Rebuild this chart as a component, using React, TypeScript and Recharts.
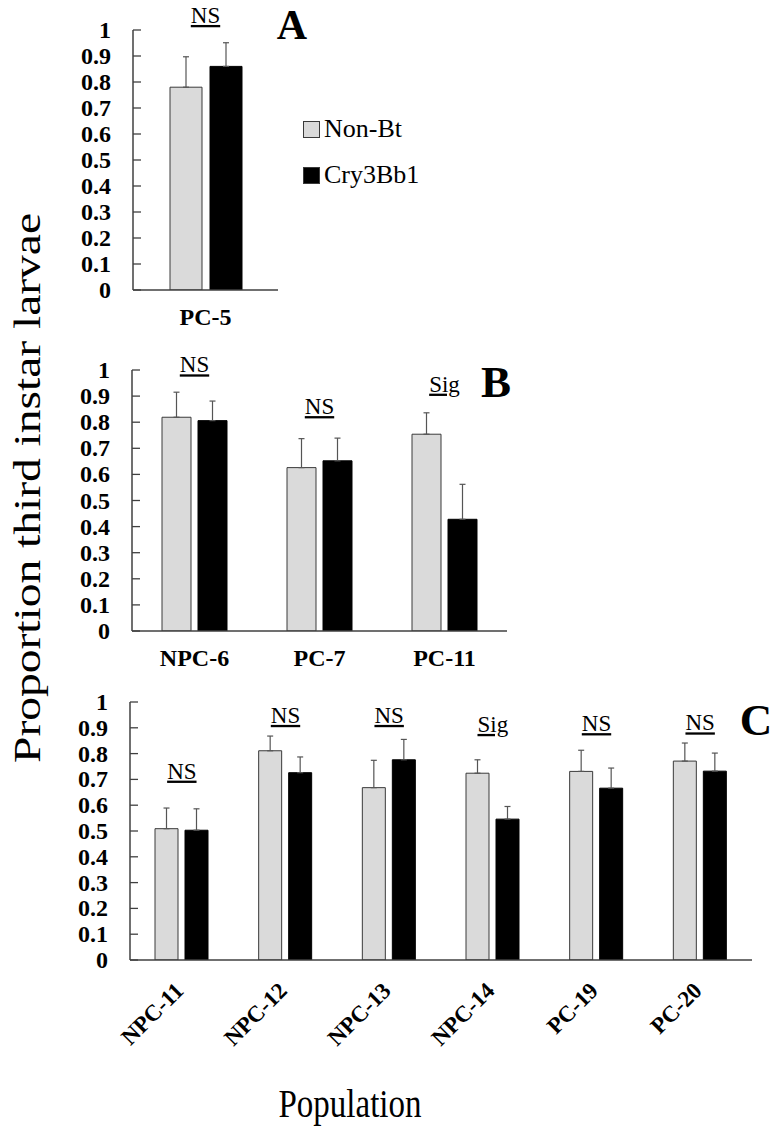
import React from 'react';
import { BarChart, Bar, XAxis, YAxis, ErrorBar, ReferenceDot, Legend } from 'recharts';

const yTicks = [0, 0.1, 0.2, 0.3, 0.4, 0.5, 0.6, 0.7, 0.8, 0.9, 1];

const seriesNames = ['Non-Bt', 'Cry3Bb1'];

// Panel A
const catsA = ['PC-5'];
const nonBtA = [0.78];
const nonBtErrA = [0.117];
const cryA = [0.86];
const cryErrA = [0.091];
const sigA = ['NS'];
const sigPosA = [1.027];

// Panel B
const catsB = ['NPC-6', 'PC-7', 'PC-11'];
const nonBtB = [0.819, 0.626, 0.754];
const nonBtErrB = [0.096, 0.111, 0.082];
const cryB = [0.806, 0.652, 0.428];
const cryErrB = [0.075, 0.087, 0.134];
const sigB = ['NS', 'NS', 'Sig'];
const sigPosB = [0.991, 0.831, 0.917];

// Panel C
const catsC = ['NPC-11', 'NPC-12', 'NPC-13', 'NPC-14', 'PC-19', 'PC-20'];
const nonBtC = [0.509, 0.811, 0.668, 0.724, 0.731, 0.771];
const nonBtErrC = [0.08, 0.057, 0.106, 0.052, 0.082, 0.07];
const cryC = [0.503, 0.726, 0.776, 0.546, 0.666, 0.732];
const cryErrC = [0.083, 0.061, 0.079, 0.049, 0.078, 0.07];
const sigC = ['NS', 'NS', 'NS', 'Sig', 'NS', 'NS'];
const sigPosC = [0.703, 0.919, 0.919, 0.884, 0.887, 0.89];

const FONT = "'Liberation Serif', 'Times New Roman', serif";
const LIGHT = '#dadada';
const DARK = '#000000';
const OUTLINE = '#3a3a3a';
const AXIS = '#404040';
const ERR = '#555555';
const TICK_MARGIN = 22;

function build(cats: string[], nb: number[], nbE: number[], cr: number[], crE: number[]) {
  return cats.map((c, i) => ({
    name: c,
    nonBt: nb[i],
    cry: cr[i],
    nbErr: [0, nbE[i]],
    crErr: [0, crE[i]],
  }));
}

const fmt = (v: number) => String(Number(v.toFixed(1)));

const YTick = (props: any) => {
  const { x, y, payload } = props;
  const ax = x + TICK_MARGIN;
  return (
    <g>
      <line x1={ax} x2={ax + 8} y1={y} y2={y} stroke={AXIS} strokeWidth={1.3} />
      <text x={x} y={y} dy={8} textAnchor="end" fontFamily={FONT} fontWeight="bold" fontSize={24} fill="#000">
        {fmt(payload.value)}
      </text>
    </g>
  );
};

const XTickFlat = (props: any) => {
  const { x, y, payload } = props;
  return (
    <text x={x} y={y + 35} textAnchor="middle" fontFamily={FONT} fontWeight="bold" fontSize={24} fill="#000">
      {payload.value}
    </text>
  );
};

const XTickRot = (props: any) => {
  const { x, y, payload } = props;
  const tx = x + 3;
  const ty = y + 32;
  return (
    <text
      x={tx}
      y={ty}
      textAnchor="end"
      transform={`rotate(-45, ${tx}, ${ty})`}
      fontFamily={FONT}
      fontWeight="bold"
      fontSize={23}
      fill="#000"
    >
      {payload.value}
    </text>
  );
};

const sigLabel = (text: string) => (props: any) => {
  const vb = props.viewBox || {};
  const cx = (vb.x || 0) + (vb.width || 0) / 2;
  const cy = (vb.y || 0) + (vb.height || 0) / 2;
  return (
    <text
      x={cx}
      y={cy}
      textAnchor="middle"
      fontFamily={FONT}
      fontSize={23}
      fill="#000"
      style={{ textDecoration: 'underline' }}
    >
      {text}
    </text>
  );
};

const legendColors: Record<string, string> = { 'Non-Bt': LIGHT, Cry3Bb1: DARK };

const LegendContent = () => (
  <div style={{ fontFamily: FONT }}>
    {seriesNames.map((n) => (
      <div key={n} style={{ display: 'flex', alignItems: 'center', height: 46 }}>
        <div
          style={{
            width: 15,
            height: 15,
            background: legendColors[n],
            border: `1px solid ${OUTLINE}`,
            marginRight: 4,
          }}
        />
        <span style={{ fontSize: 26, color: '#000', lineHeight: '46px' }}>{n}</span>
      </div>
    ))}
  </div>
);

type PanelProps = {
  data: any[];
  sig: string[];
  sigPos: number[];
  cats: string[];
  width: number;
  height: number;
  top: number;
  right: number;
  yAxisWidth: number;
  xAxisHeight: number;
  barSize: number;
  barGap: number;
  rotated?: boolean;
  legend?: boolean;
};

const Panel = (p: PanelProps) => (
  <BarChart
    width={p.width}
    height={p.height}
    data={p.data}
    margin={{ top: p.top, right: p.right, bottom: 0, left: 0 }}
    barSize={p.barSize}
    barGap={p.barGap}
  >
    <XAxis
      dataKey="name"
      axisLine={{ stroke: AXIS, strokeWidth: 1.5 }}
      tickLine={false}
      tickSize={0}
      tickMargin={0}
      height={p.xAxisHeight}
      interval={0}
      tick={p.rotated ? <XTickRot /> : <XTickFlat />}
    />
    <YAxis
      type="number"
      domain={[0, 1]}
      ticks={yTicks}
      width={p.yAxisWidth}
      axisLine={{ stroke: AXIS, strokeWidth: 1.5 }}
      tickLine={false}
      tickSize={0}
      tickMargin={TICK_MARGIN}
      interval={0}
      tick={<YTick />}
      allowDataOverflow
    />
    {p.legend && (
      <Legend
        layout="vertical"
        align="center"
        verticalAlign="middle"
        content={<LegendContent />}
        wrapperStyle={{ left: 303, top: 106, width: 130, height: 92, position: 'absolute' }}
      />
    )}
    <Bar dataKey="nonBt" name={seriesNames[0]} fill={LIGHT} stroke={OUTLINE} strokeWidth={1} isAnimationActive={false}>
      <ErrorBar dataKey="nbErr" width={3} stroke={ERR} strokeWidth={1.2} direction="y" />
    </Bar>
    <Bar dataKey="cry" name={seriesNames[1]} fill={DARK} stroke={DARK} strokeWidth={1} isAnimationActive={false}>
      <ErrorBar dataKey="crErr" width={3} stroke={ERR} strokeWidth={1.2} direction="y" />
    </Bar>
    {p.cats.map((c, i) => (
      <ReferenceDot
        key={c}
        x={c}
        y={p.sigPos[i]}
        r={1}
        fill="none"
        stroke="none"
        ifOverflow="visible"
        label={sigLabel(p.sig[i])}
      />
    ))}
  </BarChart>
);

const letterStyle = (cx: number, baseline: number, fs: number): React.CSSProperties => {
  const lh = 36;
  const off = (lh - 1.107 * fs) / 2 + 0.891 * fs;
  return {
    position: 'absolute',
    left: cx,
    top: baseline - off,
    transform: 'translateX(-50%)',
    fontFamily: FONT,
    fontWeight: 'bold',
    fontSize: fs,
    lineHeight: `${lh}px`,
    color: '#000',
  };
};

export default function App() {
  const dataA = build(catsA, nonBtA, nonBtErrA, cryA, cryErrA);
  const dataB = build(catsB, nonBtB, nonBtErrB, cryB, cryErrB);
  const dataC = build(catsC, nonBtC, nonBtErrC, cryC, cryErrC);
  return (
    <div style={{ position: 'absolute', left: 0, top: 0, width: 776, height: 1128, background: '#fff', overflow: 'hidden' }}>
      <div style={{ position: 'absolute', left: 0, top: 0 }}>
        <Panel
          data={dataA}
          sig={sigA}
          sigPos={sigPosA}
          cats={catsA}
          width={440}
          height={340}
          top={30}
          right={440 - 278}
          yAxisWidth={133}
          xAxisHeight={50}
          barSize={32}
          barGap={8}
          legend
        />
      </div>
      <div style={{ position: 'absolute', left: 0, top: 340 }}>
        <Panel
          data={dataB}
          sig={sigB}
          sigPos={sigPosB}
          cats={catsB}
          width={560}
          height={340}
          top={30}
          right={560 - 507}
          yAxisWidth={132}
          xAxisHeight={49}
          barSize={29}
          barGap={7}
        />
      </div>
      <div style={{ position: 'absolute', left: 0, top: 680 }}>
        <Panel
          data={dataC}
          sig={sigC}
          sigPos={sigPosC}
          cats={catsC}
          width={776}
          height={448}
          top={22}
          right={776 - 752}
          yAxisWidth={130}
          xAxisHeight={168}
          barSize={23}
          barGap={7}
          rotated
        />
      </div>
      <div style={letterStyle(292, 39, 42)}>A</div>
      <div style={letterStyle(496, 397, 45)}>B</div>
      <div style={letterStyle(756, 735, 45)}>C</div>
      <div
        style={{
          position: 'absolute',
          left: 27,
          top: 488,
          transform: 'translate(-50%, -50%) rotate(-90deg) scaleX(1.25)',
          fontFamily: FONT,
          fontSize: 38,
          whiteSpace: 'nowrap',
          color: '#000',
          lineHeight: '40px',
        }}
      >
        Proportion third instar larvae
      </div>
      <div
        style={{
          position: 'absolute',
          left: 350,
          top: 1104,
          transform: 'translate(-50%, -50%) scaleY(1.2)',
          fontFamily: FONT,
          fontSize: 33,
          whiteSpace: 'nowrap',
          color: '#000',
          lineHeight: '36px',
        }}
      >
        Population
      </div>
    </div>
  );
}
